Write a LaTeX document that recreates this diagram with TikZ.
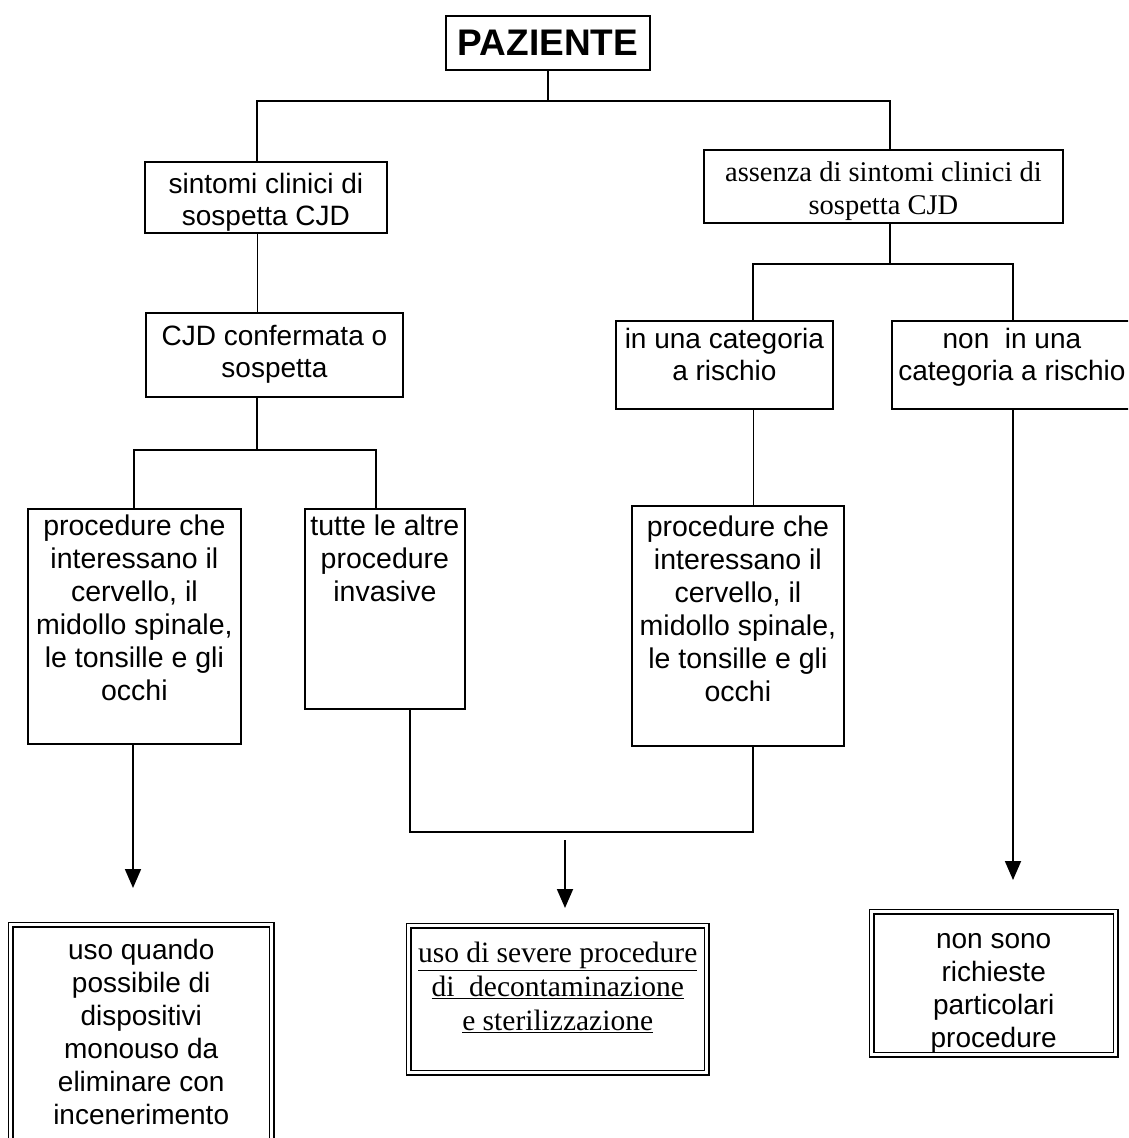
\documentclass[tikz,border=0pt]{standalone}
\usepackage{fontspec}
\setmainfont{Liberation Sans}
\newfontfamily\tnr{Liberation Serif}
\usetikzlibrary{arrows.meta}
\newcommand\bxt[4]{\parbox[t][#2pt][t]{#1pt}{\centering\vspace*{#3pt}\strut#4}}
\begin{document}
\begin{tikzpicture}[x=1pt,y=-1pt,
  box/.style={draw,line width=1.8pt,inner sep=0pt,anchor=north west},
  dbox/.style={draw,line width=1.4pt,double,double distance=3pt,inner sep=0pt,anchor=north west},
  conn/.style={line width=1.8pt},
  thinconn/.style={line width=0.9pt},
  arr/.style={line width=1.8pt,-{Triangle[length=19pt,width=16pt]}},
  arial/.style={font=\fontsize{28}{32}\selectfont},
  arialp/.style={font=\fontsize{28.5}{33}\selectfont},
  times/.style={font=\tnr\fontsize{28.5}{33}\selectfont}]
\useasboundingbox (0,0) rectangle (1128,1138);
\clip (0,0) rectangle (1128,1138);
\fill[white] (0,0) rectangle (1128,1138);

% boxes
\node[draw,line width=1.8pt,minimum width=204pt,minimum height=54pt,inner sep=0pt,
      font=\bfseries\fontsize{37}{40}\selectfont] (paz) at (548,43) {PAZIENTE};
\node[box,arial] (sint) at (144,161) {\bxt{242}{71}{9}{sintomi clinici di\\sospetta CJD}};
\node[box,times] (ass) at (703,149) {\bxt{359}{73}{8}{assenza di sintomi clinici di\\sospetta CJD}};
\node[box,arial] (conf) at (145,312) {\bxt{257}{84}{10}{CJD confermata o\\sospetta}};
\node[box,arialp] (procL) at (27,508) {\bxt{213}{235}{3}{procedure che\\interessano il\\cervello, il\\midollo spinale,\\le tonsille e gli\\occhi}};
\node[box,arialp] (tutte) at (304,508) {\bxt{160}{200}{3}{tutte le altre\\procedure\\invasive}};
\node[box,arial] (inuna) at (615,320) {\bxt{217}{88}{5}{in una categoria\\a rischio}};
\node[box,arial] (nonuna) at (891,320) {\bxt{240}{88}{5}{non\ \ in una\\categoria a rischio}};
\node[box,arialp] (procR) at (631,505) {\bxt{212}{240}{7}{procedure che\\interessano il\\cervello, il\\midollo spinale,\\le tonsille e gli\\occhi}};

\node[dbox,font=\fontsize{28}{33}\selectfont] (resL) at (10,924) {\bxt{261}{216}{12}{uso quando\\possibile di\\dispositivi\\monouso da\\eliminare con\\incenerimento}};
\node[dbox,font=\tnr\fontsize{29.5}{34}\selectfont] (resM) at (408,925) {\bxt{298}{147}{13}{\underline{uso di severe procedure}\\\underline{di\ \ decontaminazione}\\\underline{e sterilizzazione}}};
\node[dbox,font=\fontsize{28}{33}\selectfont] (resR) at (871,911) {\bxt{244}{143}{14}{non sono\\richieste\\particolari\\procedure}};

% junction coordinates
\coordinate (b1L) at (257,101);
\coordinate (b1R) at (890,101);
\coordinate (b2C) at (257,450);
\coordinate (b2L) at (134,450);
\coordinate (b2R) at (376,450);
\coordinate (b3C) at (890,264);
\coordinate (b3L) at (753,264);
\coordinate (b3R) at (1013,264);
\coordinate (brL) at (410,832);
\coordinate (brR) at (753,832);
\coordinate (m0) at (565,840);
\coordinate (tipL) at (133,888);
\coordinate (tipM) at (565,908);
\coordinate (tipR) at (1013,880);

% connectors
\draw[conn] (paz.south) -- (paz.south |- b1L);
\draw[conn] (sint.north -| b1L) -- (b1L) -- (b1R) -- (ass.north -| b1R);
\draw[thinconn] (sint.south -| b1L) -- (conf.north -| b1L);
\draw[conn] (conf.south -| b2C) -- (b2C);
\draw[conn] (procL.north -| b2L) -- (b2L) -- (b2R) -- (tutte.north -| b2R);
\draw[conn] (ass.south -| b3C) -- (b3C);
\draw[conn] (inuna.north -| b3L) -- (b3L) -- (b3R) -- (nonuna.north -| b3R);
\draw[thinconn] (inuna.south -| b3L) -- (procR.north -| b3L);
\draw[conn] (tutte.south -| brL) -- (brL) -- (brR) -- (procR.south -| brR);
\draw[arr] (procL.south -| tipL) -- (tipL);
\draw[arr] (m0) -- (tipM);
\draw[arr] (nonuna.south -| tipR) -- (tipR);
\end{tikzpicture}
\end{document}
